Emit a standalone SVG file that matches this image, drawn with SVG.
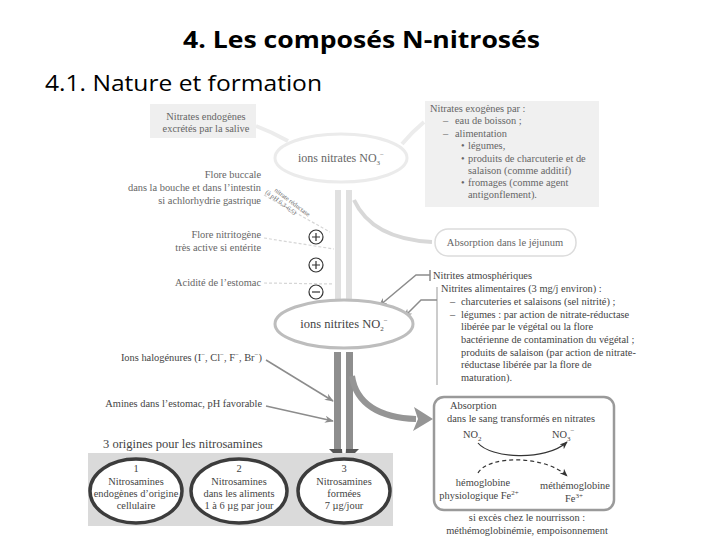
<svg xmlns="http://www.w3.org/2000/svg" width="720" height="540" viewBox="0 0 720 540">
<style>
  .title{font-family:"Open Sans","Liberation Sans",Arial,sans-serif;fill:#000}
  .t{font-family:"Liberation Serif","Times New Roman",serif;font-size:10.4px;fill:#444}
  .tl{font-family:"Liberation Serif","Times New Roman",serif;font-size:10.4px;fill:#666}
  .big{font-family:"Liberation Serif","Times New Roman",serif;font-size:12px;fill:#444}
  .r{text-anchor:end}
  .m{text-anchor:middle}
  .sub{font-size:7px}
  .faint{fill:none;stroke:#ececec;stroke-width:4}
  .thin{fill:none;stroke:#8c8c8c;stroke-width:1.5}
  .dash{fill:none;stroke:#d6d6d6;stroke-width:1.2;stroke-dasharray:3 2}
  .sign{fill:none;stroke:#333;stroke-width:1.2}
  .oval{fill:#fff;stroke:#3c3c3c;stroke-width:3.5}
</style>
<defs>
  <marker id="ah" viewBox="0 0 10 10" refX="9" refY="5" markerWidth="9" markerHeight="9" orient="auto" markerUnits="userSpaceOnUse">
    <path d="M0,1 L10,5 L0,9 L3,5 Z" fill="#8c8c8c"/>
  </marker>
  <marker id="ahb" viewBox="0 0 10 10" refX="9" refY="5" markerWidth="8" markerHeight="8" orient="auto" markerUnits="userSpaceOnUse">
    <path d="M0,1 L10,5 L0,9 L3,5 Z" fill="#333"/>
  </marker>
</defs>
<rect width="720" height="540" fill="#fff"/>

<text class="title" x="183" y="48" font-size="24" font-weight="bold" textLength="357" lengthAdjust="spacingAndGlyphs">4. Les composés N-nitrosés</text>
<text class="title" x="45" y="91" font-size="21" textLength="277" lengthAdjust="spacingAndGlyphs">4.1. Nature et formation</text>

<g id="connectors">
  <path class="faint" d="M256 126 Q272 132 288 141"/>
  <path class="faint" d="M424 122 Q412 132 402 144"/>
  <rect x="335" y="190" width="6" height="112" fill="#e0e0e0"/>
  <rect x="346" y="190" width="6" height="112" fill="#e0e0e0"/>
  <path d="M354 200 C366 226 392 240 432 242" fill="none" stroke="#d8d8d8" stroke-width="4"/>
  <path class="dash" d="M264 238 L334 249"/>
  <path class="dash" d="M264 283 L334 284"/>
  <path class="dash" d="M264 195 L330 232"/>
  <path class="thin" d="M430 270 L430 281 M430 275 L416 275 L379 306" marker-end="url(#ah)"/>
  <path d="M437 287 L437 385" stroke="#aaa" stroke-width="1.2" fill="none"/>
  <path class="thin" d="M437 300 L421 300 L404 317" marker-end="url(#ah)"/>
  <rect x="334" y="352" width="7" height="98" fill="#8e8e8e"/>
  <rect x="346" y="352" width="7" height="98" fill="#8e8e8e"/>
  <polygon points="329,449 342,449 343,463" fill="#555"/>
  <polygon points="346,449 359,449 345,463" fill="#555"/>
  <path class="thin" d="M266 360 L333 401" marker-end="url(#ah)"/>
  <path class="thin" d="M266 406 L333 421" marker-end="url(#ah)"/>
  <path d="M352 376 C356 404 380 418 416 419" fill="none" stroke="#959595" stroke-width="6"/>
  <polygon points="433,419 414,407 418,419 413,431" fill="#959595"/>
</g>

<g id="nitrates-endogenes">
  <rect x="150" y="104" width="106" height="34" fill="#efefef"/>
  <text class="tl m" x="206" y="120">Nitrates endogènes</text>
  <text class="tl m" x="206" y="132">excrétés par la salive</text>
</g>

<g id="nitrates-exogenes">
  <rect x="425" y="101" width="174" height="106" fill="#f0f0f0"/>
  <text class="tl" x="430" y="112">Nitrates exogènes par :</text>
  <text class="tl" x="443" y="124">–</text><text class="tl" x="455" y="124">eau de boisson ;</text>
  <text class="tl" x="443" y="137">–</text><text class="tl" x="455" y="137">alimentation</text>
  <text class="tl" x="461" y="149">•</text><text class="tl" x="468" y="149">légumes,</text>
  <text class="tl" x="461" y="162">•</text><text class="tl" x="468" y="162">produits de charcuterie et de</text>
  <text class="tl" x="468" y="174">salaison (comme additif)</text>
  <text class="tl" x="461" y="186">•</text><text class="tl" x="468" y="186">fromages (comme agent</text>
  <text class="tl" x="468" y="198">antigonflement).</text>
</g>

<g id="ions-nitrates">
  <ellipse cx="341" cy="158" rx="66" ry="24" fill="none" stroke="#ebebeb" stroke-width="3"/>
  <text class="big m" x="341" y="162" style="fill:#666">ions nitrates NO<tspan class="sub" dy="3">3</tspan><tspan class="sub" dy="-8">−</tspan></text>
</g>

<g id="flore-buccale">
  <text class="tl r" x="261" y="178">Flore buccale</text>
  <text class="tl r" x="261" y="191">dans la bouche et dans l’intestin</text>
  <text class="tl r" x="261" y="204">si achlorhydrie gastrique</text>
  <g transform="translate(274,191) rotate(37)">
    <text class="tl" x="0" y="0" style="font-size:6.5px">nitrate réductase</text>
    <text class="tl" x="-6" y="7" style="font-size:6.5px">(à pH 6,3-6,5)</text>
  </g>
</g>

<g id="flore-nitritogene">
  <text class="tl r" x="261" y="238">Flore nitritogène</text>
  <text class="tl r" x="261" y="251">très active si entérite</text>
</g>

<g id="acidite">
  <text class="tl r" x="261" y="286">Acidité de l’estomac</text>
</g>

<g id="signs">
  <circle class="sign" cx="316" cy="237" r="7"/><path class="sign" d="M312 237 H320 M316 233 V241"/>
  <circle class="sign" cx="316" cy="265" r="7"/><path class="sign" d="M312 265 H320 M316 261 V269"/>
  <circle class="sign" cx="316" cy="292" r="7"/><path class="sign" d="M312 292 H320"/>
</g>

<g id="jejunum">
  <rect x="435" y="229" width="141" height="27" rx="13" fill="#fff" stroke="#dcdcdc" stroke-width="1.5"/>
  <text class="tl m" x="505" y="246" style="font-size:10.5px">Absorption dans le jéjunum</text>
</g>

<g id="nitrites-atm">
  <text class="t" x="433" y="279">Nitrites atmosphériques</text>
</g>

<g id="nitrites-alim">
  <text class="t" x="441" y="292">Nitrites alimentaires (3 mg/j environ) :</text>
  <text class="t" x="450" y="305">–</text><text class="t" x="461" y="305">charcuteries et salaisons (sel nitrité) ;</text>
  <text class="t" x="450" y="318">–</text><text class="t" x="461" y="318">légumes : par action de nitrate-réductase</text>
  <text class="t" x="461" y="330">libérée par le végétal ou la flore</text>
  <text class="t" x="461" y="343">bactérienne de contamination du végétal ;</text>
  <text class="t" x="461" y="356">produits de salaison (par action de nitrate-</text>
  <text class="t" x="461" y="368">réductase libérée par la flore de</text>
  <text class="t" x="461" y="381">maturation).</text>
</g>

<g id="ions-nitrites">
  <ellipse cx="344" cy="324" rx="69" ry="24" fill="#fff" stroke="#bdbdbd" stroke-width="3"/>
  <text class="big m" x="344" y="328" style="font-size:12.5px">ions nitrites NO<tspan class="sub" dy="3">2</tspan><tspan class="sub" dy="-8">−</tspan></text>
</g>

<g id="halogenures">
  <text class="t r" x="262" y="361">Ions halogénures (I<tspan class="sub" dy="-4">−</tspan><tspan dy="4">, Cl</tspan><tspan class="sub" dy="-4">−</tspan><tspan dy="4">, F</tspan><tspan class="sub" dy="-4">−</tspan><tspan dy="4">, Br</tspan><tspan class="sub" dy="-4">−</tspan><tspan dy="4">)</tspan></text>
</g>

<g id="amines">
  <text class="t r" x="262" y="407">Amines dans l’estomac, pH favorable</text>
</g>

<g id="absorption-sang">
  <rect x="434" y="397" width="180" height="113" rx="10" fill="#fff" stroke="#9a9a9a" stroke-width="2.5"/>
  <text class="t" x="450" y="409">Absorption</text>
  <text class="t" x="447" y="422">dans le sang transformés en nitrates</text>
  <text class="t" x="463" y="438">NO<tspan class="sub" dy="3">2</tspan></text>
  <text class="t" x="552" y="438">NO<tspan class="sub" dy="3">3</tspan><tspan class="sub" dy="-8">−</tspan></text>
  <path d="M478 443 C490 458 545 462 567 442" fill="none" stroke="#333" stroke-width="1.2" marker-end="url(#ahb)"/>
  <path d="M478 473 C488 455 545 455 567 476" fill="none" stroke="#333" stroke-width="1.2" stroke-dasharray="4 3" marker-end="url(#ahb)"/>
  <text class="t m" x="483" y="486">hémoglobine</text>
  <text class="t m" x="479" y="499">physiologique Fe<tspan class="sub" dy="-4">2+</tspan></text>
  <text class="t m" x="575" y="489">méthémoglobine</text>
  <text class="t m" x="574" y="502">Fe<tspan class="sub" dy="-4">3+</tspan></text>
  <text class="t m" x="527" y="521">si excès chez le nourrisson :</text>
  <text class="t m" x="527" y="534">méthémoglobinémie, empoisonnement</text>
</g>

<g id="origines">
  <text class="big" x="103" y="448" style="font-size:12.5px">3 origines pour les nitrosamines</text>
  <rect x="88" y="453" width="305" height="73" fill="#dadada"/>
</g>

<g id="nitrosamines-1">
  <ellipse class="oval" cx="136" cy="491" rx="46" ry="32"/>
  <text class="t m" x="136" y="472">1</text>
  <text class="t m" x="136" y="485">Nitrosamines</text>
  <text class="t m" x="136" y="497">endogènes d’origine</text>
  <text class="t m" x="136" y="509">cellulaire</text>
</g>

<g id="nitrosamines-2">
  <ellipse class="oval" cx="239" cy="491" rx="48" ry="32"/>
  <text class="t m" x="239" y="472">2</text>
  <text class="t m" x="239" y="485">Nitrosamines</text>
  <text class="t m" x="239" y="497">dans les aliments</text>
  <text class="t m" x="239" y="509">1 à 6 µg par jour</text>
</g>

<g id="nitrosamines-3">
  <ellipse class="oval" cx="344" cy="491" rx="46" ry="32"/>
  <text class="t m" x="344" y="472">3</text>
  <text class="t m" x="344" y="485">Nitrosamines</text>
  <text class="t m" x="344" y="497">formées</text>
  <text class="t m" x="344" y="509">7 µg/jour</text>
</g>
</svg>
